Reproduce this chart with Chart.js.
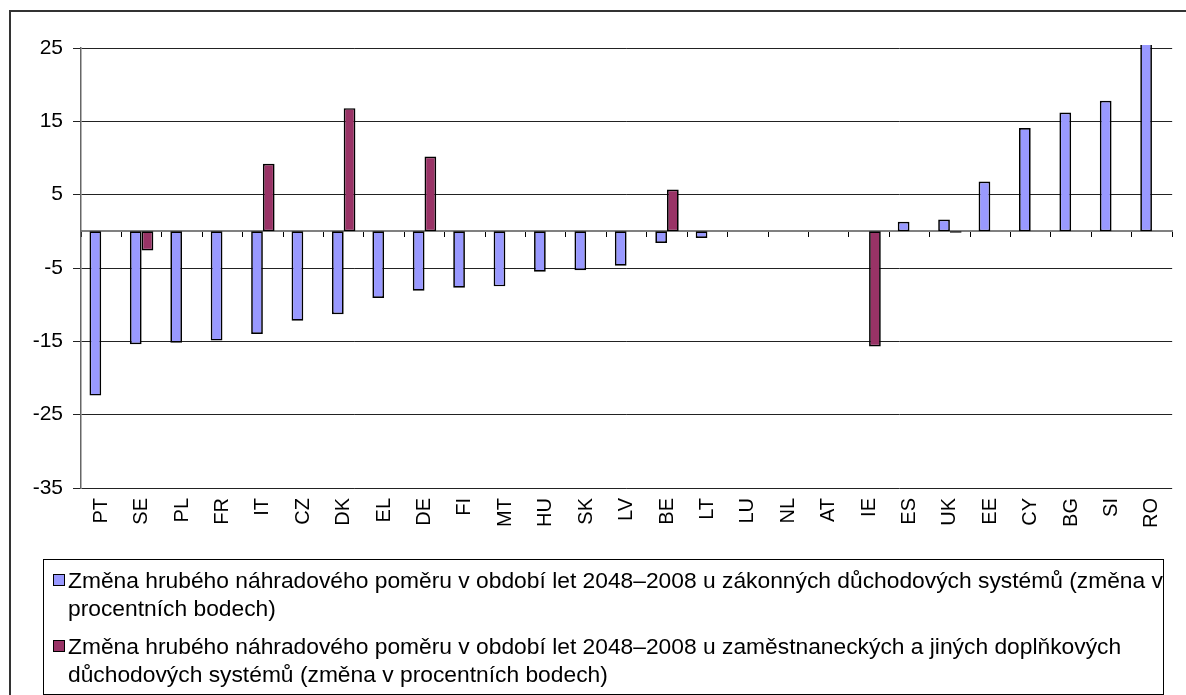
<!DOCTYPE html>
<html>
<head>
<meta charset="utf-8">
<script src="https://cdn.jsdelivr.net/npm/chart.js@4.4.1/dist/chart.umd.min.js"></script>
<style>
  html, body { margin: 0; padding: 0; background: #fff; }
  body { width: 1186px; height: 695px; position: relative; overflow: hidden; font-family: "Liberation Sans", Arial, sans-serif; }
  #frame { position: absolute; left: 9px; top: 10px; width: 1200px; height: 720px; border-left: 2px solid #333; border-top: 2px solid #333; }
  #chart { position: absolute; left: 0; top: 0; }
  #legend { position: absolute; left: 43px; top: 559px; width: 1121px; height: 136px; box-sizing: border-box; border: 1px solid #000; padding-top: 6px; }
  .item { position: relative; padding-left: 24px; font-size: 22.8px; line-height: 28px; color: #000; margin-bottom: 10px; white-space: nowrap; }
  .item .box { position: absolute; left: 9px; top: 8px; width: 10px; height: 10px; border: 1px solid #000; }
</style>
</head>
<body>
<div id="frame"></div>
<canvas id="chart" width="1186" height="560"></canvas>
<div id="legend"></div>
<script>
const categories = ["PT", "SE", "PL", "FR", "IT", "CZ", "DK", "EL", "DE", "FI", "MT", "HU", "SK", "LV",
    "BE", "LT", "LU", "NL", "AT", "IE", "ES", "UK", "EE", "CY", "BG", "SI", "RO"];

// statutory pension schemes
const statutory = [-22.4, -15.4, -15.2, -14.9, -14.0, -12.2, -11.3, -9.1, -8.1, -7.7, -7.5, -5.5, -5.3, -4.7,
    -1.6, -0.9, 0, 0, 0, null, 1.3, 1.6, 6.8, 14.1, 16.2, 17.8, 26];

// occupational and other supplementary schemes
const occupational = [null, -2.6, null, null, 9.2, null, 16.8, null, 10.2, null, null, null, null, null,
    5.7, null, null, null, null, -15.7, null, -0.2, null, null, null, null, null];

const seriesNames = [
    ["Změna hrubého náhradového poměru v období let 2048–2008 u zákonných důchodových systémů (změna v",
     "procentních bodech)"],
    ["Změna hrubého náhradového poměru v období let 2048–2008 u zaměstnaneckých a jiných doplňkových",
     "důchodových systémů (změna v procentních bodech)"]
];
const seriesColors = ["#9999FF", "#993366"];

const yTicks = [-35, -25, -15, -5, 5, 15, 25];

Chart.defaults.font.family = '"Liberation Sans", Arial, sans-serif';
Chart.defaults.color = "#000";

new Chart(document.getElementById("chart"), {
    type: "bar",
    data: {
        labels: categories,
        datasets: [statutory, occupational].map((values, i) => ({
            label: seriesNames[i].join(" "),
            data: values,
            backgroundColor: seriesColors[i],
            borderColor: "#000",
            borderWidth: 1.7,
            borderSkipped: false,
            categoryPercentage: 0.58,
            barPercentage: 1,
            clip: { left: 0, top: 3, right: 0, bottom: 0 }
        }))
    },
    options: {
        responsive: false,
        animation: false,
        layout: { padding: { top: 48, right: 2, left: 0, bottom: 0 } },
        plugins: {
            legend: { display: false },
            tooltip: { enabled: false }
        },
        scales: {
            x: {
                offset: true,
                grid: { display: false, drawTicks: false },
                border: { display: false },
                ticks: {
                    autoSkip: false,
                    maxRotation: 90,
                    minRotation: 90,
                    padding: 10,
                    font: { size: 20 }
                },
                afterFit: (scale) => { scale.height = 72; }
            },
            // axis line through zero with the category tick marks
            zero: {
                type: "category",
                axis: "x",
                position: { y: 0 },
                offset: true,
                grid: { offset: true, drawOnChartArea: false, tickLength: 5, color: "#000" },
                border: { color: "#808080", width: 2 },
                ticks: { display: false }
            },
            y: {
                min: yTicks[0],
                max: yTicks[yTicks.length - 1],
                ticks: { stepSize: yTicks[1] - yTicks[0], padding: 10, font: { size: 21 } },
                grid: { color: "#222", lineWidth: 1, tickLength: 8 },
                border: { color: "#666", width: 1.5 },
                afterFit: (scale) => { scale.width = 81; }
            }
        }
    }
});

// legend with wrapped lines, like the original
const legend = document.getElementById("legend");
seriesNames.forEach((lines, i) => {
    const item = document.createElement("div");
    item.className = "item";
    const box = document.createElement("span");
    box.className = "box";
    box.style.background = seriesColors[i];
    item.appendChild(box);
    lines.forEach((line, j) => {
        if (j > 0) item.appendChild(document.createElement("br"));
        item.appendChild(document.createTextNode(line));
    });
    legend.appendChild(item);
});
</script>
</body>
</html>
